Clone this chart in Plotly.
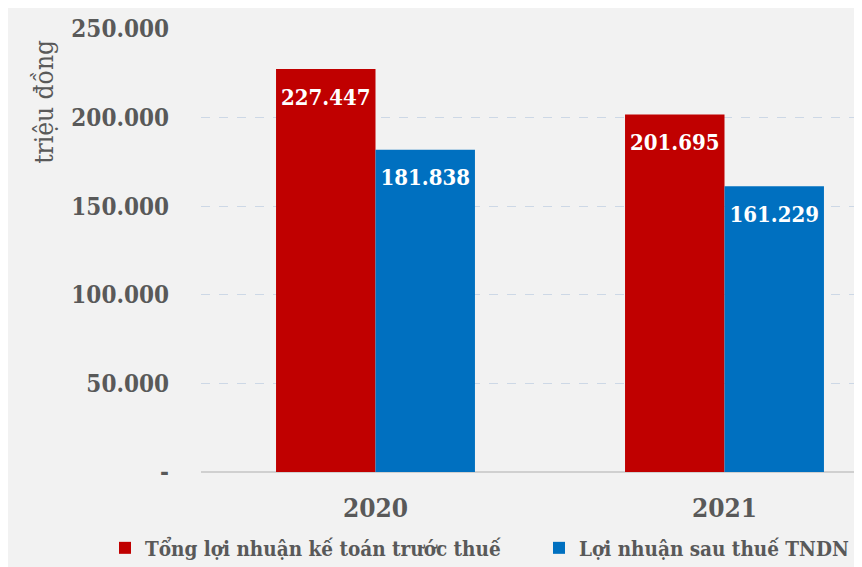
import plotly.graph_objects as go

years = ["2020", "2021"]
series_names = ["Tổng lợi nhuận kế toán trước thuế", "Lợi nhuận sau thuế TNDN"]
pre_tax = [227447, 201695]
after_tax = [181838, 161229]
pre_tax_labels = ["227.447", "201.695"]
after_tax_labels = ["181.838", "161.229"]
y_tickvals = [0, 50000, 100000, 150000, 200000, 250000]
y_ticktext = ["-", "50.000", "100.000", "150.000", "200.000", "250.000"]
y_title = "triệu đồng"

FONT = "DejaVu Serif Condensed, DejaVu Serif, serif"
RED = "#c00000"
BLUE = "#0070c0"
GRAY = "#595959"

fig = go.Figure()
for name, vals, labels, color, leg in [
    (series_names[0], pre_tax, pre_tax_labels, RED, "legend"),
    (series_names[1], after_tax, after_tax_labels, BLUE, "legend2"),
]:
    fig.add_trace(go.Bar(
        x=years, y=vals, name=name, marker=dict(color=color, line=dict(width=0)),
        text=labels,
        texttemplate="<span style='font-size:4px'>&nbsp;</span><br>%{text}",
        textposition="inside", insidetextanchor="end",
        textfont=dict(family=FONT, size=22, color="white", weight="bold"),
        textangle=0, constraintext="none", hoverinfo="skip", legend=leg,
    ))

legend_common = dict(
    orientation="h", xref="container", yref="container",
    y=0.0476, xanchor="left", yanchor="middle",
    font=dict(family=FONT, size=20.5, color=GRAY, weight="bold"),
    bgcolor="rgba(0,0,0,0)",
)

fig.update_layout(
    width=862, height=567,
    margin=dict(l=193, r=8, t=21, b=103),
    paper_bgcolor="#f2f2f2", plot_bgcolor="#f2f2f2",
    barmode="group", bargap=0.43, bargroupgap=0,
    font=dict(family=FONT, color=GRAY),
    showlegend=True,
    legend=dict(x=0.1125, **legend_common),
    legend2=dict(x=0.616, **legend_common),
    xaxis=dict(
        type="category", range=[-0.5, 1.394], showgrid=False, zeroline=False,
        showline=False, ticks="", ticklabelstandoff=18, automargin=False,
        tickfont=dict(family=FONT, size=26, color=GRAY, weight="bold"),
    ),
    yaxis=dict(
        range=[0, 250000], tickvals=y_tickvals, ticktext=y_ticktext,
        showgrid=True, gridcolor="#cdd8e6", griddash="dash", gridwidth=1,
        zeroline=True, zerolinecolor="#d0d0d0", zerolinewidth=1.5,
        showline=False, ticks="", ticklabelstandoff=31, automargin=False,
        tickfont=dict(family=FONT, size=24, color=GRAY, weight="bold"),
    ),
    annotations=[dict(
        text=y_title, xref="paper", yref="paper", x=-0.238, y=0.835,
        textangle=-90, showarrow=False, xanchor="center", yanchor="middle",
        font=dict(family=FONT, size=26, color=GRAY),
    )],
)

fig.write_html("out.html")
